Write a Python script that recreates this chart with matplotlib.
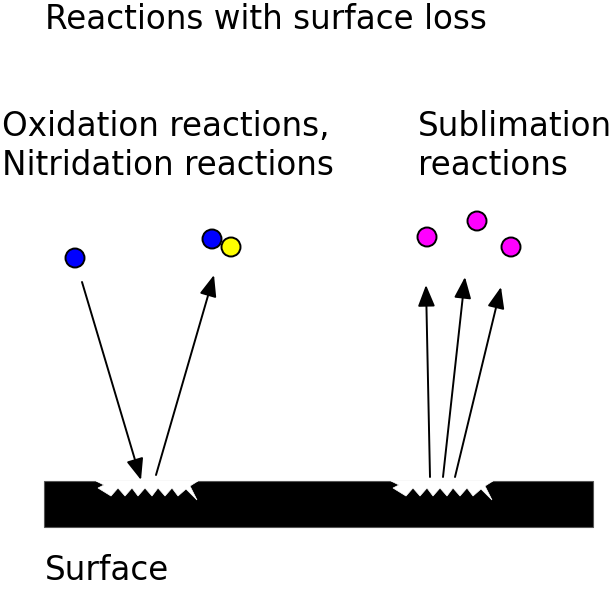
import matplotlib
matplotlib.use("Agg")
import matplotlib.pyplot as plt
from matplotlib.patches import Circle, Rectangle, Polygon, FancyArrowPatch

plt.rcParams["font.family"] = ["DejaVu Sans"]

W, H = 612, 591

# text lines (text, x, baseline y)
labels = ["Reactions with surface loss", "Oxidation reactions,", "Nitridation reactions",
          "Sublimation", "reactions", "Surface"]
label_x = [45, 2, 2, 418, 418, 45]
label_y = [29, 136, 175, 136, 175, 580]

# particles (x, y, colour)
part_x = [75, 212, 231, 427, 477, 511]
part_y = [258, 239, 247, 237, 221, 247]
part_c = ["#0000ff", "#0000ff", "#ffff00", "#ff00ff", "#ff00ff", "#ff00ff"]

# arrows: start -> tip
arr_x0 = [82, 156, 430, 443, 455]
arr_y0 = [282, 475, 477, 477, 477]
arr_x1 = [141, 214, 426, 465, 501]
arr_y1 = [480, 275, 285, 277, 287]

# surface slab
surf_x, surf_y, surf_w, surf_h = 44, 481, 549, 46

# notch outline (relative to left notch), and notch offsets
notch_x = [96, 104, 98, 111, 118, 125, 132, 138, 145, 152, 158, 165, 172, 178, 186, 197, 190, 198]
notch_y = [481, 485, 488, 496, 488, 496, 488, 496, 488, 496, 488, 496, 488, 496, 489, 500, 486, 481]
notch_dx = [0, 295]

fig = plt.figure(figsize=(W / 100, H / 100), dpi=100)
ax = fig.add_axes([0, 0, 1, 1])
ax.set_xlim(0, W)
ax.set_ylim(H, 0)
ax.axis("off")

ax.add_patch(Rectangle((surf_x, surf_y), surf_w, surf_h, facecolor="black",
                       edgecolor="#555555", lw=0.8))
for dx in notch_dx:
    pts = [(x + dx, y) for x, y in zip(notch_x, notch_y)]
    ax.add_patch(Polygon(pts, closed=True, facecolor="white", edgecolor="white", lw=0.5))

for x0, y0, x1, y1 in zip(arr_x0, arr_y0, arr_x1, arr_y1):
    ax.add_patch(FancyArrowPatch((x0, y0), (x1, y1), arrowstyle="-|>,head_length=10,head_width=4",
                                 color="black", lw=1.4, shrinkA=0, shrinkB=0,
                                 mutation_scale=1.3))

for x, y, c in zip(part_x, part_y, part_c):
    ax.add_patch(Circle((x, y), 9.5, facecolor=c, edgecolor="black", lw=1.4))

for t, x, y in zip(labels, label_x, label_y):
    ax.text(x, y, t, fontsize=23.5, va="baseline", ha="left")

fig.savefig("out.png", dpi=100)
